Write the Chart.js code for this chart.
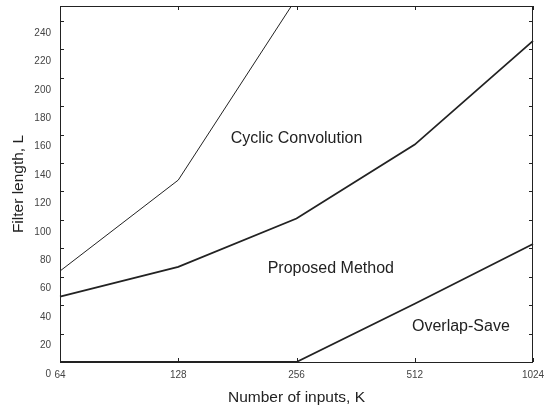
<!DOCTYPE html>
<html>
<head>
<meta charset="utf-8">
<script src="https://cdn.jsdelivr.net/npm/chart.js@4/dist/chart.umd.min.js"></script>
<style>
  html, body { margin: 0; padding: 0; background: #fff; }
  #wrap { width: 554px; height: 412px; position: relative; }
</style>
</head>
<body>
<div id="wrap"><canvas id="filterChart"></canvas></div>
<script>
// number of inputs K (log2 spaced axis)
var inputs = ['64', '128', '256', '512', '1024'];
// filter length L where each method stops being the cheapest
var cyclicConv = [64, 128, 256, null, null];
var proposed = [46, 67, 101, 153, 226];
var overlapSave = [0, 0, 0, 41, 83];
var yTicks = [0, 20, 40, 60, 80, 100, 120, 140, 160, 180, 200, 220, 240];
// region labels: x is the category index, y is a value of L
var regionNames = ['Cyclic Convolution', 'Proposed Method', 'Overlap-Save'];
var regionX = [2.0, 2.29, 3.39];
var regionY = [157, 66, 25];

var ink = '#222';
var tickGray = '#444';

// frame with inward tick marks on all four sides, plus the region labels
var framePlugin = {
  id: 'frame',
  afterDatasetsDraw: function(chart) {
    var ctx = chart.ctx, a = chart.chartArea;
    var xs = chart.scales.x, ys = chart.scales.y;
    ctx.save();
    ctx.strokeStyle = ink;
    ctx.lineWidth = 1;
    ctx.strokeRect(a.left + 0.5, a.top + 0.5, a.right - a.left - 1, a.bottom - a.top);
    ctx.beginPath();
    yTicks.forEach(function(v) {
      var py = Math.round(ys.getPixelForValue(v)) + 0.5;
      ctx.moveTo(a.left, py); ctx.lineTo(a.left + 4, py);
      ctx.moveTo(a.right - 4, py); ctx.lineTo(a.right, py);
    });
    inputs.forEach(function(k, i) {
      var px = Math.round(xs.getPixelForValue(i)) + 0.5;
      ctx.moveTo(px, a.bottom); ctx.lineTo(px, a.bottom - 4);
      ctx.moveTo(px, a.top); ctx.lineTo(px, a.top + 4);
    });
    ctx.stroke();

    ctx.fillStyle = ink;
    ctx.font = '16px "Liberation Sans", Arial, sans-serif';
    ctx.textAlign = 'center';
    ctx.textBaseline = 'middle';
    regionNames.forEach(function(name, i) {
      ctx.fillText(name, xs.getPixelForValue(regionX[i]), ys.getPixelForValue(regionY[i]));
    });
    ctx.restore();
  }
};

function lineSet(label, values, width) {
  return {
    label: label,
    data: values,
    borderColor: ink,
    borderWidth: width,
    pointRadius: 0,
    tension: 0,
    fill: false,
    spanGaps: false
  };
}

var ctx = document.getElementById('filterChart').getContext('2d');
new Chart(ctx, {
  type: 'line',
  data: {
    labels: inputs,
    datasets: [
      lineSet('Cyclic Convolution', cyclicConv, 1),
      lineSet('Proposed Method', proposed, 1.8),
      lineSet('Overlap-Save', overlapSave, 1.8)
    ]
  },
  options: {
    responsive: true,
    maintainAspectRatio: false,
    animation: false,
    layout: { padding: { top: 6, right: 21, left: 0, bottom: 0 } },
    plugins: {
      legend: { display: false },
      tooltip: { enabled: false }
    },
    scales: {
      x: {
        type: 'category',
        offset: false,
        grid: { display: false, drawTicks: false },
        border: { display: false },
        ticks: {
          color: tickGray,
          font: { family: '"Liberation Sans", Arial, sans-serif', size: 10 },
          padding: 7,
          maxRotation: 0,
          autoSkip: false
        },
        title: {
          display: true,
          text: 'Number of inputs, K',
          color: ink,
          font: { family: '"Liberation Sans", Arial, sans-serif', size: 15.5 },
          padding: { top: 0, bottom: 5 }
        },
        afterFit: function(scale) {
          scale.height = 50;
          scale.paddingLeft = 0;
          scale.paddingRight = 0;
        }
      },
      y: {
        min: 0,
        max: 250.5,
        grid: { display: false, drawTicks: false },
        border: { display: false },
        afterBuildTicks: function(scale) {
          scale.ticks = yTicks.map(function(v) { return { value: v }; });
        },
        ticks: {
          color: tickGray,
          font: { family: '"Liberation Sans", Arial, sans-serif', size: 10 },
          padding: 9,
          labelOffset: 12
        },
        title: {
          display: true,
          text: 'Filter length, L',
          color: ink,
          font: { family: '"Liberation Sans", Arial, sans-serif', size: 15.5 },
          padding: { top: 9, bottom: 0 }
        },
        afterFit: function(scale) {
          scale.width = 60;
          scale.paddingTop = 0;
          scale.paddingBottom = 0;
        }
      }
    }
  },
  plugins: [framePlugin]
});
</script>
</body>
</html>
